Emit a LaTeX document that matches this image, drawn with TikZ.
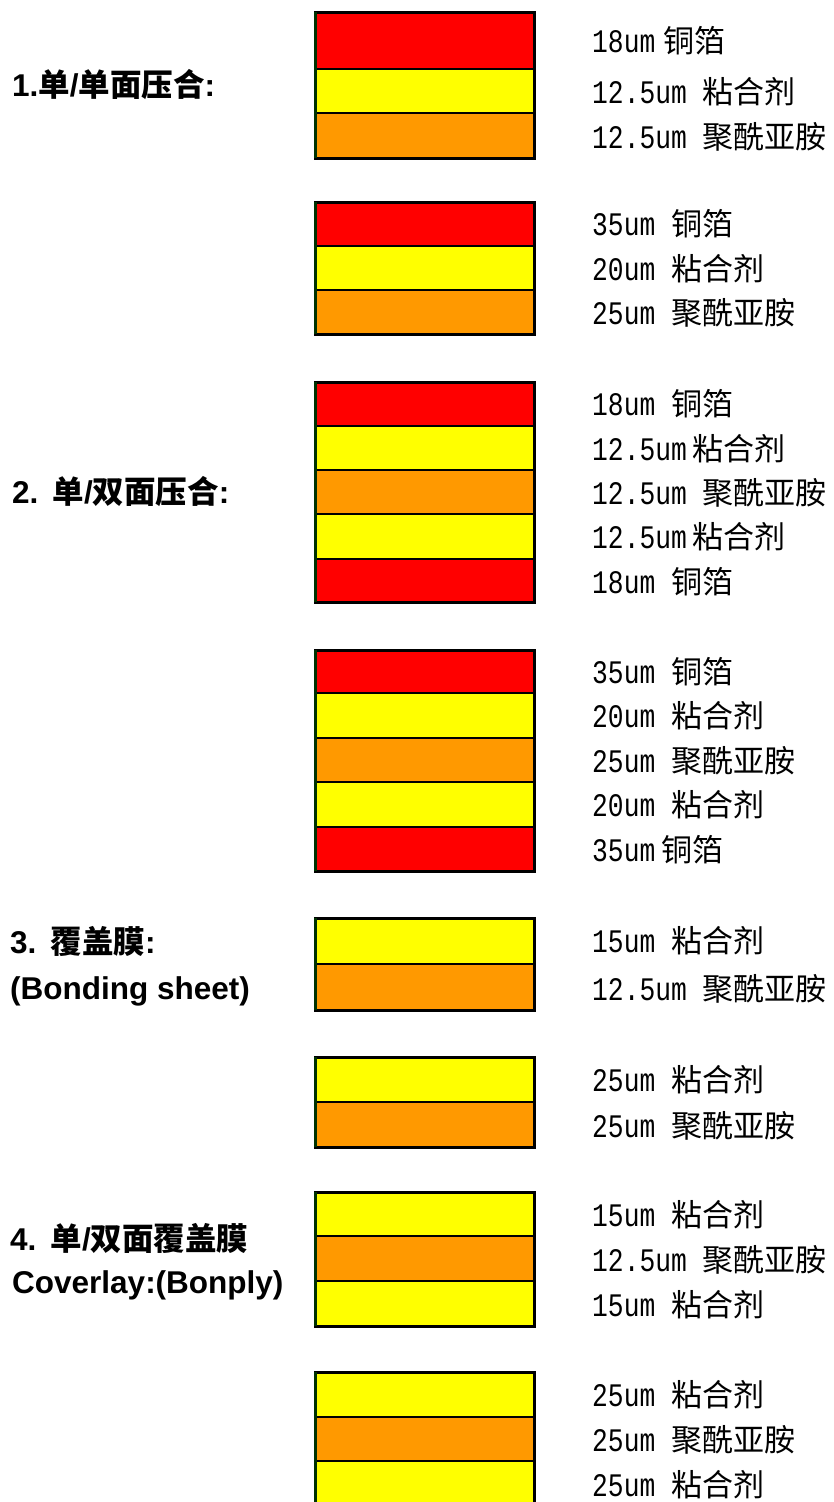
\documentclass[tikz,border=0pt]{standalone}
\usepackage{fontspec}
\setmainfont{Liberation Sans}
\newfontfamily\cjk{Noto Sans CJK SC}
\newfontfamily\lmono[FakeStretch=0.8,Scale=1.06]{Liberation Mono}
\definecolor{cuc}{HTML}{FF0000}
\definecolor{adc}{HTML}{FFFF00}
\definecolor{pic}{HTML}{FF9900}
\definecolor{edgegreen}{HTML}{003300}
\tikzset{
  inner line/.style={draw=black,line width=2pt},
  outer line/.style={draw=black,line width=3pt},
  left edge/.style={draw=edgegreen,line width=3pt},
  rt/.style={anchor=base west,inner sep=0pt,font=\fontsize{31}{37}\selectfont},
  lt/.style={anchor=base west,inner sep=0pt,font=\fontsize{31.5}{37}\selectfont\bfseries},
}
\begin{document}
\begin{tikzpicture}[x=1pt,y=-1pt]
\useasboundingbox[fill=white] (0,0) rectangle (833,1502);

% ---------- stack 1 ----------
\fill[cuc] (315.5,11) rectangle (534.5,69);
\fill[adc] (315.5,69) rectangle (534.5,113);
\fill[pic] (315.5,113) rectangle (534.5,158);
\draw[inner line] (315.5,69) -- (534.5,69) (315.5,113) -- (534.5,113);
\draw[outer line] (315.5,12) rectangle (534.5,158);
\draw[left edge] (315.5,12) -- (315.5,158);

% ---------- stack 2 ----------
\fill[cuc] (315.5,201) rectangle (534.5,246);
\fill[adc] (315.5,246) rectangle (534.5,290);
\fill[pic] (315.5,290) rectangle (534.5,334);
\draw[inner line] (315.5,246) -- (534.5,246) (315.5,290) -- (534.5,290);
\draw[outer line] (315.5,202) rectangle (534.5,334);
\draw[left edge] (315.5,202) -- (315.5,334);

% ---------- stack 3 ----------
\fill[cuc] (315.5,381) rectangle (534.5,426);
\fill[adc] (315.5,426) rectangle (534.5,470);
\fill[pic] (315.5,470) rectangle (534.5,514);
\fill[adc] (315.5,514) rectangle (534.5,559);
\fill[cuc] (315.5,559) rectangle (534.5,602);
\draw[inner line] (315.5,426) -- (534.5,426) (315.5,470) -- (534.5,470)
                  (315.5,514) -- (534.5,514) (315.5,559) -- (534.5,559);
\draw[outer line] (315.5,382) rectangle (534.5,602);
\draw[left edge] (315.5,382) -- (315.5,602);

% ---------- stack 4 ----------
\fill[cuc] (315.5,649) rectangle (534.5,693);
\fill[adc] (315.5,693) rectangle (534.5,738);
\fill[pic] (315.5,738) rectangle (534.5,782);
\fill[adc] (315.5,782) rectangle (534.5,827);
\fill[cuc] (315.5,827) rectangle (534.5,871);
\draw[inner line] (315.5,693) -- (534.5,693) (315.5,738) -- (534.5,738)
                  (315.5,782) -- (534.5,782) (315.5,827) -- (534.5,827);
\draw[outer line] (315.5,650) rectangle (534.5,871);
\draw[left edge] (315.5,650) -- (315.5,871);

% ---------- stack 5 ----------
\fill[adc] (315.5,917) rectangle (534.5,964);
\fill[pic] (315.5,964) rectangle (534.5,1010);
\draw[inner line] (315.5,964) -- (534.5,964);
\draw[outer line] (315.5,918) rectangle (534.5,1010);
\draw[left edge] (315.5,918) -- (315.5,1010);

% ---------- stack 6 ----------
\fill[adc] (315.5,1056) rectangle (534.5,1102);
\fill[pic] (315.5,1102) rectangle (534.5,1147);
\draw[inner line] (315.5,1102) -- (534.5,1102);
\draw[outer line] (315.5,1057) rectangle (534.5,1147);
\draw[left edge] (315.5,1057) -- (315.5,1147);

% ---------- stack 7 ----------
\fill[adc] (315.5,1191) rectangle (534.5,1236);
\fill[pic] (315.5,1236) rectangle (534.5,1281);
\fill[adc] (315.5,1281) rectangle (534.5,1326);
\draw[inner line] (315.5,1236) -- (534.5,1236) (315.5,1281) -- (534.5,1281);
\draw[outer line] (315.5,1192) rectangle (534.5,1326);
\draw[left edge] (315.5,1192) -- (315.5,1326);

% ---------- stack 8 (cut by the lower edge) ----------
\fill[adc] (315.5,1371) rectangle (534.5,1417);
\fill[pic] (315.5,1417) rectangle (534.5,1461);
\fill[adc] (315.5,1461) rectangle (534.5,1502);
\draw[inner line] (315.5,1417) -- (534.5,1417) (315.5,1461) -- (534.5,1461);
\draw[outer line] (315.5,1502) -- (315.5,1372) -- (534.5,1372) -- (534.5,1502);
\draw[left edge] (315.5,1372) -- (315.5,1502);

% ---------- left labels ----------
\node[lt] (l1)  at (12,96)   {1.{\cjk 单}/{\cjk 单面压合}:};
\node[lt] (l2)  at (12,503)  {2.\hspace{0.45em}{\cjk 单}/{\cjk 双面压合}:};
\node[lt] (l3a) at (10,953)  {3.\hspace{0.45em}{\cjk 覆盖膜}:};
\node[lt] (l3b) at (10,999)  {(Bonding sheet)};
\node[lt] (l4a) at (10,1250) {4.\hspace{0.45em}{\cjk 单}/{\cjk 双面覆盖膜}};
\node[lt] (l4b) at (12,1293) {Coverlay:(Bonply)};

% ---------- right labels ----------
% stack 1
\node[rt] (a1) at (592,52)    {{\lmono 18um}\hspace{8pt}{\cjk 铜箔}};
\node[rt] (a2) at (592,103)   {{\lmono 12.5um }{\cjk 粘合剂}};
\node[rt] (a3) at (592,148)   {{\lmono 12.5um }{\cjk 聚酰亚胺}};
% stack 2
\node[rt] (b1) at (592,235.5) {{\lmono 35um }{\cjk 铜箔}};
\node[rt] (b2) at (592,280)   {{\lmono 20um }{\cjk 粘合剂}};
\node[rt] (b3) at (592,324.5) {{\lmono 25um }{\cjk 聚酰亚胺}};
% stack 3
\node[rt] (c1) at (592,415.5) {{\lmono 18um }{\cjk 铜箔}};
\node[rt] (c2) at (592,460)   {{\lmono 12.5um}\hspace{6pt}{\cjk 粘合剂}};
\node[rt] (c3) at (592,504)   {{\lmono 12.5um }{\cjk 聚酰亚胺}};
\node[rt] (c4) at (592,548.5) {{\lmono 12.5um}\hspace{6pt}{\cjk 粘合剂}};
\node[rt] (c5) at (592,593)   {{\lmono 18um }{\cjk 铜箔}};
% stack 4
\node[rt] (d1) at (592,683)   {{\lmono 35um }{\cjk 铜箔}};
\node[rt] (d2) at (592,727.5) {{\lmono 20um }{\cjk 粘合剂}};
\node[rt] (d3) at (592,772)   {{\lmono 25um }{\cjk 聚酰亚胺}};
\node[rt] (d4) at (592,816.5) {{\lmono 20um }{\cjk 粘合剂}};
\node[rt] (d5) at (592,861.5) {{\lmono 35um}\hspace{6pt}{\cjk 铜箔}};
% stack 5
\node[rt] (e1) at (592,952.5) {{\lmono 15um }{\cjk 粘合剂}};
\node[rt] (e2) at (592,1000)  {{\lmono 12.5um }{\cjk 聚酰亚胺}};
% stack 6
\node[rt] (f1) at (592,1091.5){{\lmono 25um }{\cjk 粘合剂}};
\node[rt] (f2) at (592,1137.5){{\lmono 25um }{\cjk 聚酰亚胺}};
% stack 7
\node[rt] (g1) at (592,1226)  {{\lmono 15um }{\cjk 粘合剂}};
\node[rt] (g2) at (592,1271)  {{\lmono 12.5um }{\cjk 聚酰亚胺}};
\node[rt] (g3) at (592,1316)  {{\lmono 15um }{\cjk 粘合剂}};
% stack 8
\node[rt] (h1) at (592,1406)  {{\lmono 25um }{\cjk 粘合剂}};
\node[rt] (h2) at (592,1451)  {{\lmono 25um }{\cjk 聚酰亚胺}};
\node[rt] (h3) at (592,1496)  {{\lmono 25um }{\cjk 粘合剂}};
\end{tikzpicture}
\end{document}
